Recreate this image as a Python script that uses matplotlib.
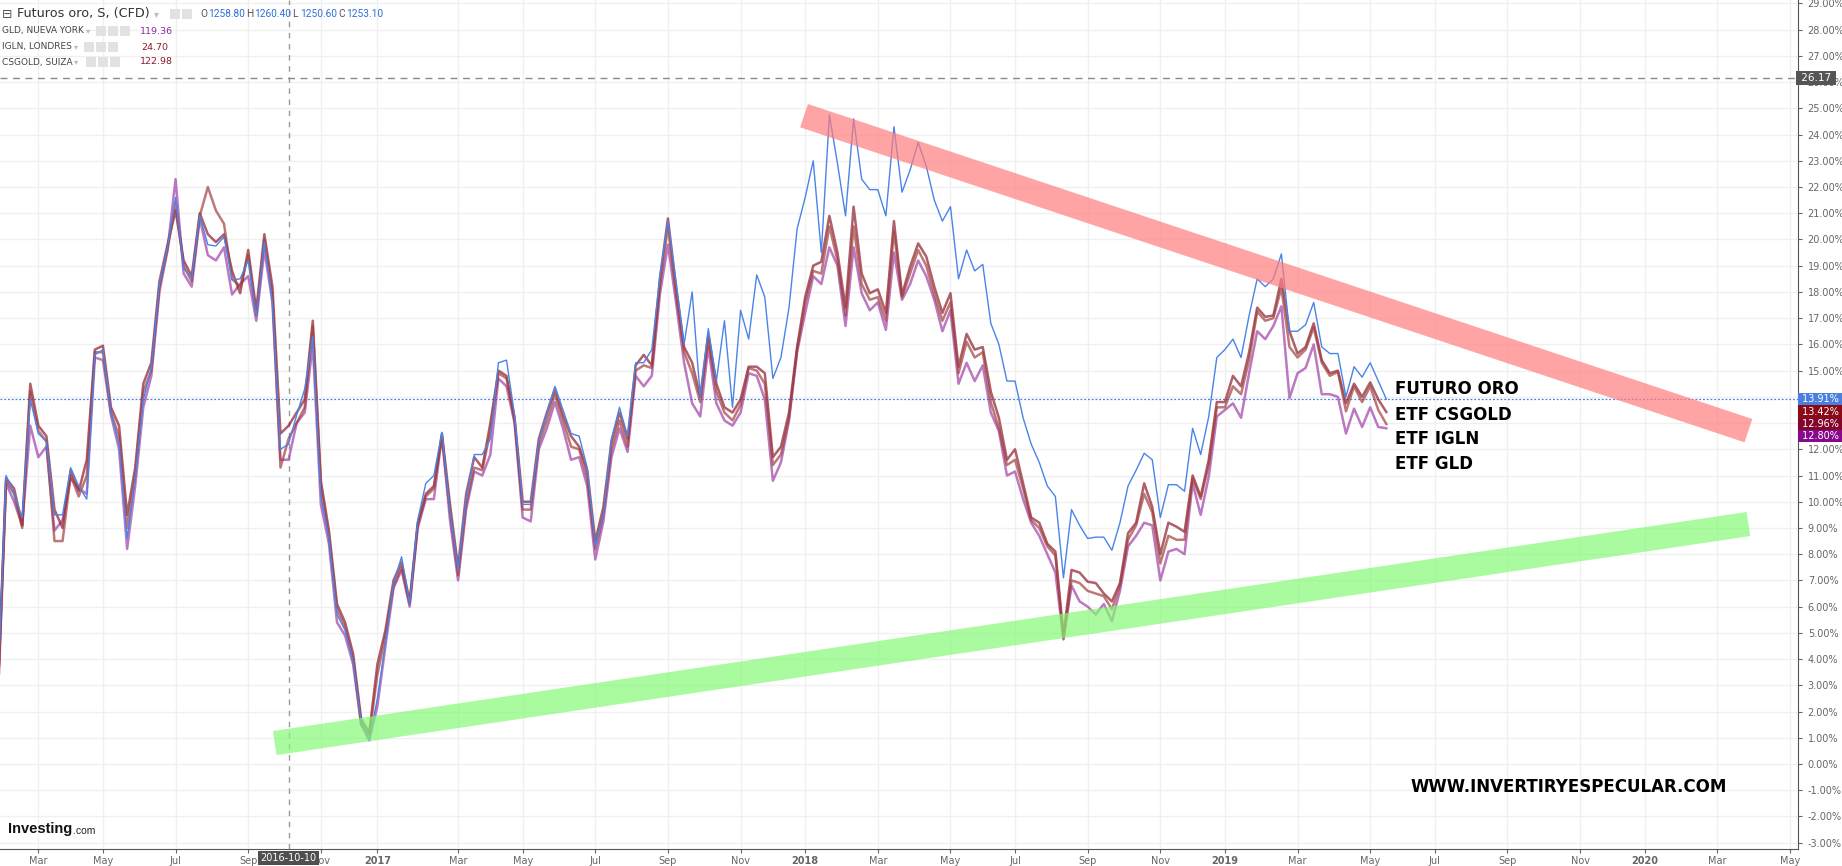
import numpy as np
import pandas as pd
import matplotlib
matplotlib.use('Agg')
import matplotlib.pyplot as plt
import matplotlib.dates as mdates
from matplotlib.patches import Rectangle

# weekly bars (Mondays), percent change
weeks = pd.date_range('2016-02-01', periods=173, freq='7D')

futuro = [3.0, 11.0, 10.3, 9.4, 13.9, 12.6, 12.3, 9.5, 9.5, 11.3,
          10.6, 10.1, 15.6, 15.8, 13.4, 12.2, 8.6, 10.9, 13.9, 15.1,
          18.3, 19.7, 21.6, 18.9, 18.5, 20.9, 19.8, 19.75, 20.1, 18.45,
          18.5, 19.2, 17.1, 19.9, 17.6, 12.0, 12.2, 13.3, 14.3, 16.3,
          10.2, 8.6, 5.7, 5.1, 3.9, 1.6, 0.9, 2.5, 4.6, 6.9,
          7.9, 6.1, 9.3, 10.7, 11.0, 12.65, 9.6, 7.4, 10.1, 11.8,
          11.8, 12.4, 15.3, 15.4, 13.3, 9.9, 9.9, 12.3, 13.4, 14.4,
          13.5, 12.6, 12.5, 11.3, 8.3, 9.5, 12.4, 13.6, 12.5, 15.3,
          15.3, 15.8, 18.6, 20.7, 18.4, 16.0, 18.0, 14.0, 16.6, 14.6,
          16.9, 13.6, 17.3, 16.2, 18.65, 17.8, 14.7, 15.5, 17.4, 20.4,
          21.6, 23.0, 19.5, 24.75, 22.9, 20.9, 24.6, 22.3, 21.9, 21.9,
          20.9, 24.3, 21.8, 22.65, 23.7, 22.8, 21.5, 20.7, 21.25, 18.5,
          19.6, 18.8, 19.05, 16.8, 16.0, 14.6, 14.6, 13.2, 12.2, 11.5,
          10.6, 10.2, 7.1, 9.7, 9.1, 8.6, 8.65, 8.65, 8.15, 9.2,
          10.6, 11.2, 11.85, 11.6, 9.4, 10.65, 10.65, 10.4, 12.8, 11.8,
          13.25, 15.5, 15.8, 16.2, 15.5, 17.1, 18.5, 18.2, 18.5, 19.45,
          16.5, 16.5, 16.75, 17.6, 15.9, 15.65, 15.65, 14.0, 15.15, 14.75,
          15.3, 14.6, 13.91]

csgold = [2.8, 10.9, 10.5, 9.1, 14.5, 12.9, 12.5, 9.7, 9.0, 11.2,
          10.4, 11.6, 15.8, 15.95, 13.6, 12.9, 9.5, 11.3, 14.5, 15.3,
          18.4, 19.8, 21.1, 19.2, 18.6, 21.0, 20.2, 19.9, 20.2, 18.8,
          17.95, 19.6, 17.3, 20.2, 18.2, 12.6, 12.9, 13.4, 13.9, 16.9,
          10.8, 8.9, 6.1, 5.4, 4.2, 1.7, 1.2, 3.8, 5.1, 7.0,
          7.7, 6.2, 9.2, 10.3, 10.6, 12.6, 9.9, 7.5, 10.3, 11.7,
          11.3, 13.0, 15.0, 14.8, 13.2, 10.0, 10.0, 12.4, 13.4, 14.3,
          13.3, 12.5, 12.1, 11.2, 8.5, 9.8, 12.3, 13.4, 12.4, 15.2,
          15.6, 15.2, 18.5, 20.8, 18.2, 15.9, 15.3, 14.0, 16.4, 14.5,
          13.6, 13.4, 13.9, 15.15, 15.15, 14.9, 11.7, 12.1, 13.4, 15.9,
          17.8, 19.0, 19.15, 20.9, 19.5, 17.4, 21.25, 18.7, 17.95, 18.1,
          17.2, 20.7, 17.9, 18.96, 19.85, 19.35, 18.2, 17.2, 17.95, 15.15,
          16.4, 15.8, 15.9, 14.2, 13.2, 11.6, 12.0, 10.7, 9.4, 9.2,
          8.4, 8.1, 4.9, 7.4, 7.3, 6.95, 6.9, 6.5, 6.2, 6.9,
          8.8, 9.2, 10.7, 9.8, 8.0, 9.2, 9.05, 8.85, 11.0, 10.2,
          11.6, 13.8, 13.8, 14.8, 14.4, 15.7, 17.4, 17.05, 17.1, 18.5,
          16.5, 15.65, 15.9, 16.8, 15.4, 14.9, 15.0, 13.75, 14.5, 14.0,
          14.55, 13.9, 13.42]

igln = [2.7, 10.8, 10.3, 9.0, 14.2, 12.7, 12.3, 8.5, 8.5, 11.0,
        10.2, 11.0, 15.7, 15.7, 13.4, 12.5, 9.0, 11.0, 14.2, 15.0,
        18.2, 19.6, 21.4, 19.0, 18.4, 20.9, 22.0, 21.1, 20.6, 18.5,
        18.2, 19.4, 17.1, 20.0, 17.9, 11.3, 12.4, 13.0, 13.6, 16.7,
        10.6, 8.7, 5.9, 5.2, 4.0, 1.5, 1.1, 3.4, 4.9, 6.8,
        7.5, 6.1, 9.1, 10.2, 10.5, 12.5, 9.6, 7.2, 9.9, 11.3,
        11.2, 12.7, 14.9, 14.7, 13.1, 9.7, 9.7, 12.2, 13.1, 14.1,
        13.1, 12.1, 12.0, 10.9, 8.2, 9.5, 12.0, 13.1, 12.1, 15.0,
        15.2, 15.1, 18.2, 20.5, 17.9, 15.7, 14.9, 13.8, 16.2, 14.2,
        13.4, 13.1, 13.7, 15.1, 15.0, 14.5, 11.4, 11.8, 13.2, 15.8,
        17.6, 18.8, 18.7, 20.5, 19.2, 17.1, 20.5, 18.3, 17.7, 17.8,
        16.9, 20.3, 17.8, 18.7, 19.6, 19.0, 17.9, 16.9, 17.6, 14.9,
        16.1, 15.5, 15.7, 13.8, 12.8, 11.4, 11.6, 10.5, 9.3, 9.0,
        8.3, 7.95, 4.8, 7.0, 6.9, 6.6, 6.5, 6.4, 5.9, 6.8,
        8.55, 9.1, 10.3, 9.6, 7.65, 8.7, 8.55, 8.55, 10.9, 10.1,
        11.4, 13.6, 13.6, 14.4, 14.1, 15.4, 17.25, 16.9, 17.0, 18.15,
        15.9, 15.5, 15.8, 16.65, 15.3, 14.8, 14.95, 13.45, 14.4, 13.8,
        14.4, 13.5, 12.96]

gld = [2.4, 10.7, 10.0, 9.1, 12.9, 11.7, 12.1, 8.9, 9.3, 10.9,
       10.5, 10.3, 15.5, 15.4, 13.3, 12.0, 8.2, 10.6, 13.6, 14.8,
       18.0, 19.6, 22.3, 18.7, 18.2, 20.8, 19.4, 19.2, 19.7, 17.9,
       18.3, 18.6, 16.9, 19.6, 17.6, 11.6, 11.6, 13.0, 13.4, 16.0,
       9.9, 8.4, 5.4, 4.9, 3.8, 1.5, 0.9, 2.2, 4.5, 6.7,
       7.4, 6.0, 9.0, 10.1, 10.1, 12.5, 9.3, 7.0, 9.7, 11.15,
       11.0, 11.8, 14.7, 14.4, 13.0, 9.4, 9.25, 12.0, 12.8, 13.8,
       12.8, 11.6, 11.7, 10.6, 7.8, 9.25, 11.7, 12.8, 11.9, 14.8,
       14.4, 14.8, 17.9, 19.8, 17.6, 15.3, 13.75, 13.25, 15.9, 13.75,
       13.1, 12.9, 13.4, 14.9, 14.8, 13.9, 10.8, 11.5, 13.1, 15.7,
       17.2, 18.6, 18.3, 19.7, 19.0, 16.7, 19.7, 17.95, 17.3, 17.6,
       16.55, 19.5, 17.7, 18.3, 19.2, 18.6, 17.7, 16.5, 17.3, 14.5,
       15.3, 14.6, 15.2, 13.4, 12.7, 11.0, 11.15, 10.1, 9.2, 8.7,
       8.0, 7.3, 4.75, 6.8, 6.2, 6.0, 5.7, 6.1, 5.45, 6.6,
       8.3, 8.7, 9.2, 9.1, 7.0, 8.1, 8.2, 8.0, 10.7, 9.5,
       10.95, 13.25, 13.5, 13.75, 13.2, 14.9, 16.5, 16.2, 16.7, 17.45,
       13.95, 14.9, 15.1, 16.0, 14.1, 14.1, 14.0, 12.6, 13.55, 12.85,
       13.6, 12.85, 12.80]

# trend bands drawn by hand on the chart (date, value)
resist_dates = ['2017-12-31', '2020-03-29']
resist_vals = [24.72, 12.71]
support_dates = ['2016-09-28', '2020-03-29']
support_vals = [0.80, 9.15]

last_vals = [13.91, 13.42, 12.96, 12.80]
last_colors = ['#4a7fe0', '#8b0a16', '#82062c', '#880a8c']
cross_date = '2016-10-10'
cross_level = 26.17

W, H = 1842, 866
fig = plt.figure(figsize=(W / 100, H / 100), dpi=100)
ax = fig.add_axes([0, 17 / H, 1798 / W, 849 / H])

def px(x, y):
    return x / W, 1 - y / H

x = mdates.date2num(weeks)
ax.plot(x, futuro, color='#4a84e8', lw=1.0, zorder=5)
ax.plot(x, csgold, color='#8c1c2c', lw=1.8, alpha=0.7, zorder=4)
ax.plot(x, igln, color='#a2403f', lw=1.8, alpha=0.7, zorder=4)
ax.plot(x, gld, color='#a040a8', lw=1.8, alpha=0.7, zorder=3)

# bands
ax.plot(mdates.date2num(pd.to_datetime(resist_dates)), resist_vals, color='#ff7e7e',
        alpha=0.7, lw=17.7, solid_capstyle='butt', zorder=6)
ax.plot(mdates.date2num(pd.to_datetime(support_dates)), support_vals, color='#86f877',
        alpha=0.7, lw=17.5, solid_capstyle='butt', zorder=6)

base = mdates.date2num(pd.Timestamp(cross_date))
x0, x1 = base - 35.75 * 7, base + 187.0 * 7
y0, y1 = -3.24, 29.13

# crosshair
ax.axvline(base, color='#9a9a9a', lw=1, dashes=(4, 4), zorder=2)
ax.axhline(cross_level, color='#8a8a8a', lw=1, dashes=(5, 4), zorder=2)
ax.axhline(last_vals[0], color='#4a7fe0', lw=0.9, dashes=(1.5, 1.5), zorder=2)

# x ticks: weekly bar of each odd month, year on the bar holding Jan 1
ticks, labels = [], []
for yr in range(2016, 2021):
    for m in [1, 3, 5, 7, 9, 11]:
        d = pd.Timestamp(yr, m, 1)
        if m == 1:
            d = d - pd.Timedelta(days=d.weekday())
        else:
            d = d + pd.Timedelta(days=(7 - d.weekday()) % 7)
        t = mdates.date2num(d)
        if x0 < t < x1:
            ticks.append(t)
            labels.append(str(yr) if m == 1 else d.strftime('%b'))
ax.set_xticks(ticks)
ax.set_xticklabels(labels)
for t, lab in zip(ax.get_xticklabels(), labels):
    if lab.isdigit():
        t.set_fontweight('bold')
        t.set_color('#333333')
ax.tick_params(axis='x', labelsize=7, colors='#666666', length=3, pad=2, color='#666666')

yt = np.arange(-3, 30)
ax.set_yticks(yt)
ax.set_yticklabels(['%.2f%%' % v for v in yt])
ax.yaxis.tick_right()
ax.tick_params(axis='y', labelsize=7, colors='#666666', length=3, pad=4, color='#666666')

ax.set_xlim(x0, x1)
ax.set_ylim(y0, y1)

ax.grid(color='#f0f0f0', lw=1, zorder=0)
ax.set_axisbelow(True)
for s in ['top', 'left']:
    ax.spines[s].set_visible(False)
for s in ['bottom', 'right']:
    ax.spines[s].set_color('#555555')

# crosshair date label
ax.annotate(cross_date, xy=(base, 0), xycoords=('data', 'axes fraction'),
            xytext=(0, -6.5), textcoords='offset points', ha='center', va='center',
            fontsize=7, color='white',
            bbox=dict(boxstyle='square,pad=0.25', fc='#4f4f4f', ec='none'),
            annotation_clip=False, zorder=10)

# right side value boxes
ax.annotate(' %.2f ' % cross_level, xy=(1, cross_level), xycoords=('axes fraction', 'data'),
            xytext=(0, 0), textcoords='offset points', ha='left', va='center',
            fontsize=7.5, color='white',
            bbox=dict(boxstyle='square,pad=0.2', fc='#555555', ec='none'),
            annotation_clip=False, zorder=10)
for i, (v, c) in enumerate(zip(last_vals, last_colors)):
    ax.annotate(' %.2f%%  ' % v, xy=(1, last_vals[0]), xycoords=('axes fraction', 'data'),
                xytext=(0.5, -8.9 * i), textcoords='offset points', ha='left', va='center',
                fontsize=7, color='white',
                bbox=dict(boxstyle='square,pad=0.12', fc=c, ec='none'),
                annotation_clip=False, zorder=10)

# annotations
for txt, yy in [('FUTURO ORO', 389), ('ETF CSGOLD', 414.5), ('ETF IGLN', 439), ('ETF GLD', 464)]:
    fig.text(*px(1395, yy), txt, fontsize=12, fontweight='bold', color='black',
             ha='left', va='center')
fig.text(*px(1410, 787), 'WWW.INVERTIRYESPECULAR.COM', fontsize=12, fontweight='bold',
         color='black', ha='left', va='center')

# header
fig.text(*px(2, 14), '\u229f', fontsize=9, color='#555555', ha='left', va='center')
fig.text(*px(17, 14), 'Futuros oro, S, (CFD)', fontsize=9.2, color='#333333', ha='left', va='center')
fig.text(*px(154, 14), '\u25be', fontsize=7, color='#bbbbbb', ha='left', va='center')
for xi, (lab, val) in zip([200, 246, 292, 338],
                          [('O', '1258.80'), ('H', '1260.40'), ('L', '1250.60'), ('C', '1253.10')]):
    fig.text(*px(xi, 14), lab, fontsize=7.3, family='Roboto', color='#555555', ha='left', va='center')
    fig.text(*px(xi + 8, 14), val, fontsize=7.3, family='Roboto', color='#2f6fd6', ha='left', va='center')

def icons(x0, yc, n):
    for i in range(n):
        fx, fy = px(x0 + i * 12, yc + 5)
        fig.add_artist(Rectangle((fx, fy), 10 / W, 10 / H, transform=fig.transFigure,
                                 fc='#e2e2e2', ec='none'))

icons(170, 14, 2)
rows = [('GLD, NUEVA YORK', 31, 86, 96, 140, '119.36', '#8e2a9a'),
        ('IGLN, LONDRES', 47, 74, 84, 141, '24.70', '#8b1a2a'),
        ('CSGOLD, SUIZA', 62, 74, 86, 140, '122.98', '#8b1a2a')]
for name, yy, xa, xi, xv, val, col in rows:
    fig.text(*px(2, yy), name, fontsize=6.5, color='#444444', ha='left', va='center')
    fig.text(*px(xa, yy), '\u25be', fontsize=6, color='#bbbbbb', ha='left', va='center')
    icons(xi, yy, 3)
    fig.text(*px(xv, yy), val, fontsize=6.8, color=col, ha='left', va='center')

# logo
fig.text(*px(8, 829), 'Investing', fontsize=10.5, fontweight='bold', family='Liberation Sans',
         color='#111111', ha='left', va='center')
fig.text(*px(73, 831), '.com', fontsize=7.5, family='Liberation Sans',
         color='#222222', ha='left', va='center')

fig.savefig('out.png', dpi=100)
